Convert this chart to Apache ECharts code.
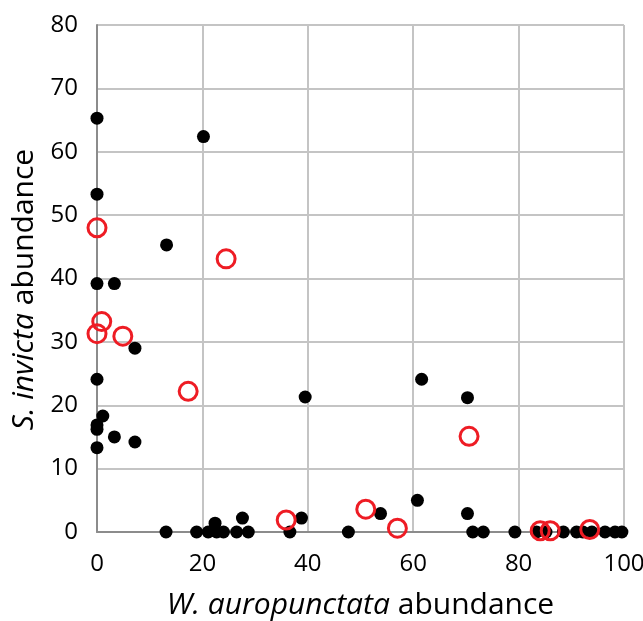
<!DOCTYPE html>
<html>
<head>
<meta charset="utf-8">
<script src="https://cdn.jsdelivr.net/npm/echarts@6/dist/echarts.min.js"></script>
<style>
  html, body { margin: 0; padding: 0; background: #fff; }
  #chart { width: 643px; height: 621px; }
</style>
</head>
<body>
<div id="chart"></div>
<script>
// black dots: sites
const blackX = [0, 20.2, 0, 13.2, 0, 3.3, 7.2, 0, 1.1, 0, 0, 3.3, 7.2, 0,
  13.1, 18.9, 21.1, 22.4, 22.7, 24.0, 26.5, 27.6, 28.7, 36.6, 38.8, 39.5,
  47.7, 53.8, 60.8, 61.6, 70.3, 70.3, 71.3, 73.3, 79.3, 83.4, 85.2, 88.5,
  91.0, 92.2, 93.9, 96.4, 98.3, 99.6]
const blackY = [65.3, 62.4, 53.3, 45.3, 39.2, 39.2, 29.0, 24.1, 18.3, 16.9, 16.2, 15.0, 14.2, 13.3,
  0, 0, 0, 1.4, 0, 0, 0, 2.2, 0, 0, 2.2, 21.3,
  0, 2.9, 5.0, 24.1, 21.2, 2.9, 0, 0, 0, 0, 0, 0,
  0, 0, 0, 0, 0, 0]
// red open circles
const redX = [0, 24.5, 0.9, 0, 4.9, 17.3, 35.9, 51.0, 57.0, 70.6, 84.1, 86.0, 93.5]
const redY = [48.0, 43.1, 33.2, 31.3, 30.9, 22.2, 1.9, 3.6, 0.6, 15.1, 0.2, 0.2, 0.4]

const xTicks = [0, 20, 40, 60, 80, 100]
const yTicks = [0, 10, 20, 30, 40, 50, 60, 70, 80]

const font = '"Open Sans", "Liberation Sans", sans-serif'
const toPairs = (xs, ys) => xs.map((x, i) => [x, ys[i]])

let chart = echarts.init(document.getElementById('chart'))
chart.setOption({
  animation: false,
  grid: {
    left: 97,
    right: 19,
    top: 25,
    bottom: 89,
    containLabel: false,
    outerBoundsMode: 'none'
  },
  xAxis: {
    type: 'value',
    min: xTicks[0],
    max: xTicks[xTicks.length - 1],
    interval: 20,
    name: '{i|W. auropunctata} abundance',
    nameLocation: 'middle',
    nameGap: 58,
    nameTextStyle: {
      fontFamily: font,
      fontSize: 30,
      color: '#000',
      rich: {
        i: { fontFamily: font, fontSize: 30, fontStyle: 'italic', color: '#000' }
      }
    },
    axisLine: { lineStyle: { color: '#8c8c8c', width: 2 } },
    axisTick: { show: false },
    axisLabel: { fontFamily: font, fontSize: 24, color: '#000', margin: 20 },
    splitLine: { lineStyle: { color: '#c4c4c4', width: 2 } }
  },
  yAxis: {
    type: 'value',
    min: yTicks[0],
    max: yTicks[yTicks.length - 1],
    interval: 10,
    name: '{i|S. invicta} abundance',
    nameLocation: 'middle',
    nameGap: 57,
    nameTextStyle: {
      fontFamily: font,
      fontSize: 30,
      color: '#000',
      padding: [0, 22, 0, 0],
      rich: {
        i: { fontFamily: font, fontSize: 30, fontStyle: 'italic', color: '#000' }
      }
    },
    axisLine: { show: true, lineStyle: { color: '#8c8c8c', width: 2 } },
    axisTick: { show: false },
    axisLabel: { fontFamily: font, fontSize: 24, color: '#000', margin: 19 },
    splitLine: { lineStyle: { color: '#c4c4c4', width: 2 } }
  },
  series: [
    {
      type: 'scatter',
      data: toPairs(blackX, blackY),
      symbol: 'circle',
      symbolSize: 13,
      itemStyle: { color: '#000', opacity: 1 },
      z: 3
    },
    {
      type: 'scatter',
      data: toPairs(redX, redY),
      symbol: 'circle',
      symbolSize: 18,
      itemStyle: { color: 'rgba(255,255,255,0)', borderColor: '#ee1c24', borderWidth: 3, opacity: 1 },
      z: 4
    }
  ]
})
</script>
</body>
</html>
